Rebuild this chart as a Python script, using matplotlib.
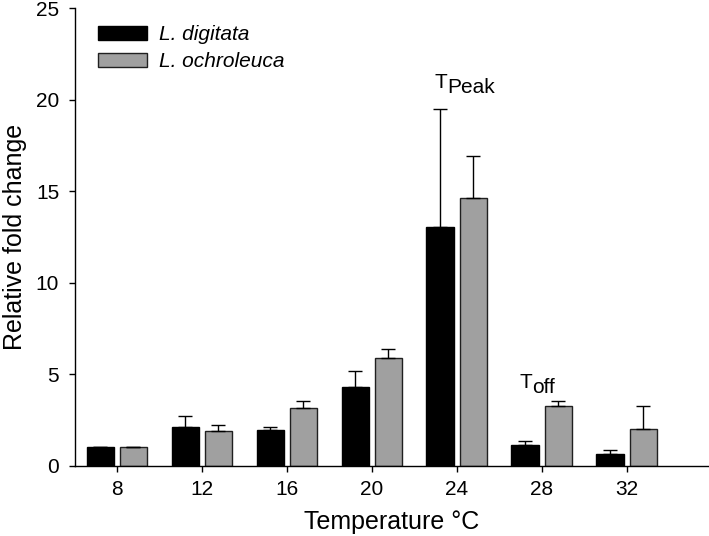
import numpy as np
import matplotlib.pyplot as plt

plt.rcParams['font.family'] = ['Liberation Sans', 'DejaVu Sans']

# data
temps = ['8', '12', '16', '20', '24', '28', '32']
digitata = [1.0, 2.13, 1.93, 4.33, 13.05, 1.15, 0.67]
digitata_err = [0.0, 0.60, 0.20, 0.85, 6.45, 0.23, 0.20]
ochroleuca = [1.0, 1.90, 3.15, 5.90, 14.60, 3.24, 2.02]
ochroleuca_err = [0.0, 0.34, 0.41, 0.48, 2.30, 0.29, 1.22]

fig = plt.figure(figsize=(7.09, 5.36), dpi=100)
ax = fig.add_axes([0.106, 0.131, 0.894, 0.854])

x = np.arange(len(temps))
w = 0.32
off = 0.195

zeros = np.zeros(len(temps))
ax.bar(x - off, digitata, w, color='black', edgecolor='black', linewidth=1,
       yerr=[zeros, digitata_err], capsize=4.7,
       error_kw=dict(elinewidth=1, capthick=1, ecolor='black'),
       label='L. digitata')
ax.bar(x + off, ochroleuca, w, color='#a0a0a0', edgecolor='#202020', linewidth=1,
       yerr=[zeros, ochroleuca_err], capsize=4.7,
       error_kw=dict(elinewidth=1, capthick=1, ecolor='black'),
       label='L. ochroleuca')

# T_Peak and T_off labels
ax.text(3.74, 20.62, 'T', fontsize=15, ha='left', va='baseline')
ax.annotate('Peak', xy=(3.74, 20.62), xytext=(9, -3.6), textcoords='offset points',
            fontsize=15, ha='left', va='baseline')
ax.text(4.74, 4.26, 'T', fontsize=15, ha='left', va='baseline')
ax.annotate('off', xy=(4.74, 4.26), xytext=(9, -3.6), textcoords='offset points',
            fontsize=15, ha='left', va='baseline')

ax.set_xlim(-0.49, 6.97)
ax.set_ylim(0, 25)
ax.set_xticks(x)
ax.set_xticklabels(temps)
ax.set_yticks([0, 5, 10, 15, 20, 25])
ax.tick_params(axis='both', direction='out', length=4.5, width=1, labelsize=15)
ax.tick_params(axis='x', pad=6)
ax.tick_params(axis='y', pad=7)
for s in ['top', 'right']:
    ax.spines[s].set_visible(False)
for s in ['left', 'bottom']:
    ax.spines[s].set_linewidth(1)

ax.set_xlabel('Temperature °C', fontsize=18, labelpad=8)
ax.set_ylabel('Relative fold change', fontsize=18, labelpad=6)

leg = ax.legend(loc='upper left', bbox_to_anchor=(0.036, 0.962), frameon=False,
                prop=dict(size=15, style='italic'), handlelength=2.35, handleheight=0.625,
                handletextpad=0.58, labelspacing=0.38, borderaxespad=0, borderpad=0)

fig.savefig('out.png', dpi=100)
